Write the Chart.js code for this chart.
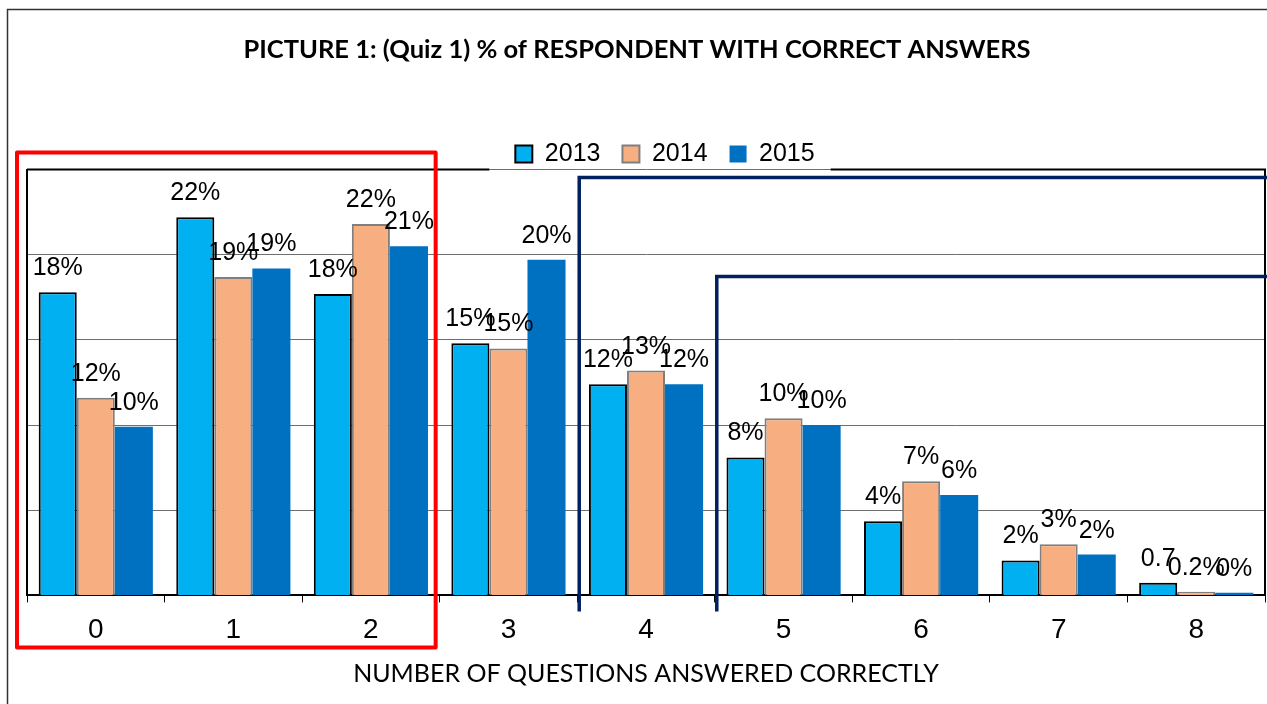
<!DOCTYPE html>
<html lang="en">
<head>
    <meta charset="UTF-8">
    <title>Quiz 1 - % of respondent with correct answers</title>
    <script src="https://cdn.jsdelivr.net/npm/chart.js"></script>
    <style>
        html, body { margin: 0; padding: 0; background: #fff; }
        .chart-box { width: 1267px; height: 704px; position: relative; }
    </style>
</head>
<body>
    <div class="chart-box">
        <canvas id="quizChart"></canvas>
    </div>

    <script>
        // number of questions answered correctly
        const categories = ['0', '1', '2', '3', '4', '5', '6', '7', '8'];
        const years = ['2013', '2014', '2015'];

        // % of respondents
        const values2013 = [17.8, 22.2, 17.7, 14.8, 12.4, 8.1, 4.35, 2.05, 0.75];
        const values2014 = [11.6, 18.7, 21.8, 14.5, 13.2, 10.4, 6.7, 3.0, 0.22];
        const values2015 = [9.9, 19.2, 20.5, 19.7, 12.4, 10.0, 5.9, 2.4, 0.16];

        // data labels as printed in the picture
        const labels2013 = ['18%', '22%', '18%', '15%', '12%', '8%', '4%', '2%', '0.7'];
        const labels2014 = ['12%', '19%', '22%', '15%', '13%', '10%', '7%', '3%', '0.2%'];
        const labels2015 = ['10%', '19%', '21%', '20%', '12%', '10%', '6%', '2%', '0%'];

        const yTicks = [0, 5, 10, 15, 20, 25];

        const barLabels = [labels2013, labels2014, labels2015];

        // draws the value labels above each bar
        const valueLabels = {
            id: 'valueLabels',
            afterDatasetsDraw(chart) {
                const ctx = chart.ctx;
                ctx.save();
                ctx.font = '25px "Liberation Sans", Arial, sans-serif';
                ctx.fillStyle = '#000';
                ctx.textAlign = 'center';
                ctx.textBaseline = 'alphabetic';
                chart.data.datasets.forEach((ds, d) => {
                    chart.getDatasetMeta(d).data.forEach((bar, i) => {
                        ctx.fillText(barLabels[d][i], bar.x, bar.y - 17);
                    });
                });
                ctx.restore();
            }
        };

        // frame, plot border and the hand drawn highlight boxes
        const decorations = {
            id: 'decorations',
            afterLayout(chart) {
                // legend sits a little right of centre and overlaps the plot top
                chart.legend.left += 38;
                chart.legend.top += 7;
                // title is centred on the whole frame, not the plot
                chart.titleBlock.left -= 9;
                chart.titleBlock.right -= 9;
            },
            afterDraw(chart) {
                const ctx = chart.ctx;
                const area = chart.chartArea;
                const x = chart.scales.x;
                const step = x.getPixelForValue(1) - x.getPixelForValue(0);
                const edge = i => x.getPixelForValue(i) - step / 2;
                ctx.save();

                // outer frame
                ctx.strokeStyle = '#333';
                ctx.lineWidth = 1.5;
                ctx.strokeRect(7.5, 9.5, chart.width + 10, chart.height + 10);

                // plot border top (broken by the legend) and right
                const boxes = chart.legend.legendHitBoxes;
                const gapL = boxes[0].left - 26;
                const last = boxes[boxes.length - 1];
                const gapR = last.left + last.width + 16;
                ctx.strokeStyle = '#000';
                ctx.lineWidth = 2;
                ctx.beginPath();
                ctx.moveTo(area.left, area.top);
                ctx.lineTo(gapL, area.top);
                ctx.moveTo(gapR, area.top);
                ctx.lineTo(area.right, area.top);
                ctx.lineTo(area.right, area.bottom);
                ctx.stroke();

                // red box round 0..2
                ctx.strokeStyle = '#FF0000';
                ctx.lineWidth = 4;
                ctx.lineJoin = 'round';
                ctx.strokeRect(area.left - 10, area.top - 17,
                    edge(3) - 4 - (area.left - 10), area.bottom + 52 - (area.top - 17));

                // navy brackets from 4 and from 5 onwards
                ctx.strokeStyle = '#002060';
                ctx.lineWidth = 3.5;
                ctx.lineJoin = 'miter';
                ctx.beginPath();
                ctx.moveTo(edge(4) + 2, area.bottom + 16);
                ctx.lineTo(edge(4) + 2, area.top + 8);
                ctx.lineTo(chart.width + 5, area.top + 8);
                ctx.moveTo(edge(5) + 2, area.bottom + 16);
                ctx.lineTo(edge(5) + 2, area.top + 107);
                ctx.lineTo(chart.width + 5, area.top + 107);
                ctx.stroke();

                ctx.restore();
            }
        };

        const ctx = document.getElementById('quizChart').getContext('2d');
        const quizChart = new Chart(ctx, {
            type: 'bar',
            data: {
                labels: categories,
                datasets: [{
                    label: years[0],
                    data: values2013,
                    backgroundColor: '#00B0F0',
                    borderColor: '#000000',
                    borderWidth: 2,
                    borderSkipped: 'bottom'
                }, {
                    label: years[1],
                    data: values2014,
                    backgroundColor: '#F7AF82',
                    borderColor: '#7F7F7F',
                    borderWidth: 2,
                    borderSkipped: 'bottom'
                }, {
                    label: years[2],
                    data: values2015,
                    backgroundColor: '#0070C0',
                    borderWidth: 0
                }]
            },
            options: {
                responsive: true,
                maintainAspectRatio: false,
                animation: false,
                layout: {
                    padding: { top: 0, left: 27, right: 2, bottom: 15 }
                },
                datasets: {
                    bar: {
                        categoryPercentage: 0.83,
                        barPercentage: 1.0
                    }
                },
                plugins: {
                    title: {
                        display: true,
                        text: 'PICTURE 1: (Quiz 1) % of RESPONDENT WITH CORRECT ANSWERS',
                        color: '#000',
                        font: { family: 'Lato', size: 25.5, weight: 'bold' },
                        padding: { top: 34, bottom: 48 }
                    },
                    legend: {
                        display: true,
                        position: 'top',
                        fullSize: false,
                        labels: {
                            color: '#000',
                            font: { family: '"Liberation Sans"', size: 25 },
                            boxWidth: 17,
                            boxHeight: 17,
                            padding: 22
                        }
                    },
                    tooltip: { enabled: false }
                },
                scales: {
                    x: {
                        grid: {
                            offset: true,
                            drawOnChartArea: false,
                            drawTicks: true,
                            tickLength: 7,
                            color: '#000'
                        },
                        border: { color: '#000', width: 2 },
                        ticks: {
                            color: '#000',
                            font: { family: '"Liberation Sans"', size: 28 },
                            padding: 11
                        },
                        title: {
                            display: true,
                            text: 'NUMBER OF QUESTIONS ANSWERED CORRECTLY',
                            color: '#000',
                            font: { family: 'Lato', size: 25 },
                            padding: { top: 1, bottom: 0 }
                        }
                    },
                    y: {
                        min: yTicks[0],
                        max: yTicks[yTicks.length - 1],
                        afterBuildTicks(scale) {
                            scale.ticks = yTicks.map(v => ({ value: v }));
                        },
                        grid: {
                            color: '#6E6E6E',
                            lineWidth: 1,
                            drawTicks: false
                        },
                        border: { color: '#000', width: 2 },
                        ticks: { display: false }
                    }
                }
            },
            plugins: [valueLabels, decorations]
        });
    </script>
</body>
</html>
